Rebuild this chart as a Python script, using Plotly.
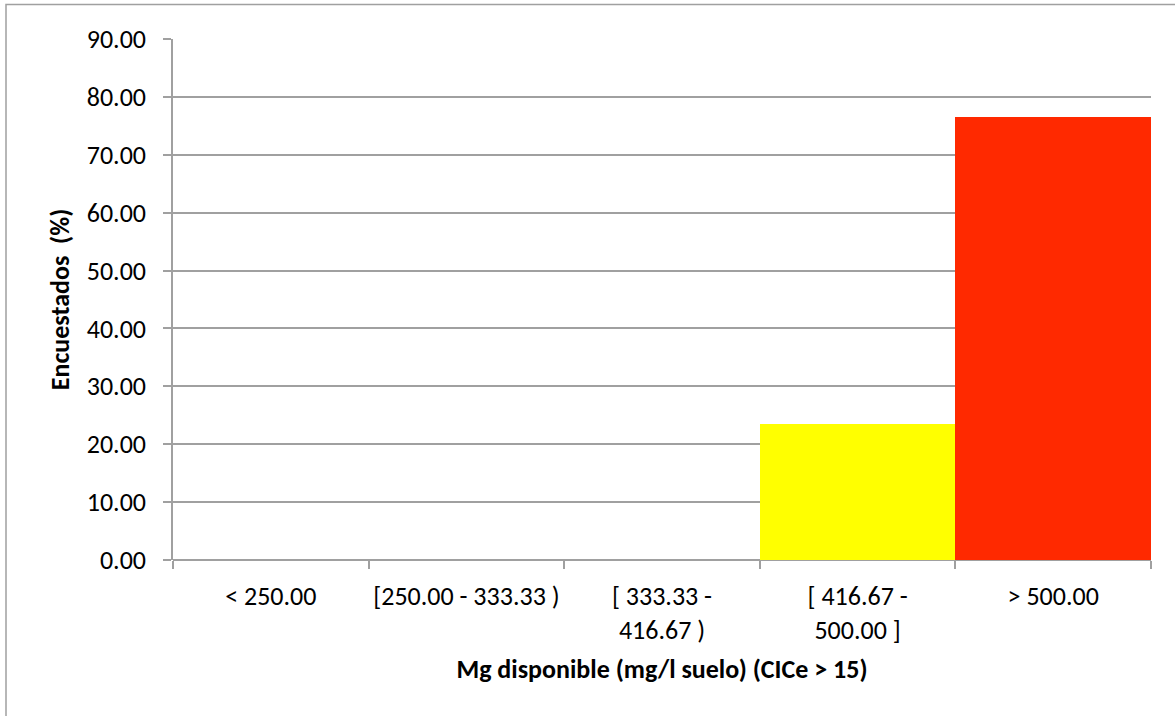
import plotly.graph_objects as go

categories = ["< 250.00", "[250.00 - 333.33 )", "[ 333.33 -<br>416.67 )", "[ 416.67 -<br>500.00 ]", "> 500.00"]
values = [0.0, 0.0, 0.0, 23.53, 76.47]
bar_colors = ["#FFFF00", "#FFFF00", "#FFFF00", "#FFFF00", "#FF2900"]
y_ticks = [0, 10, 20, 30, 40, 50, 60, 70, 80, 90]
y_labels = [f"{v:.2f}" for v in y_ticks]

W, H = 1175, 716
L, R, T, B = 173, 24, 39, 156
pw, ph = W - L - R, H - T - B

FONT = "Carlito, Calibri, Lato, sans-serif"
FS = 26

fig = go.Figure(go.Bar(
    x=categories, y=values, marker=dict(color=bar_colors, line=dict(width=0)),
    width=1.0,
))

def px_x(p):
    return (p - L) / pw

def px_y(p):
    return (H - B - p) / ph

fig.update_layout(
    width=W, height=H,
    margin=dict(l=L, r=R, t=T, b=B, autoexpand=False),
    paper_bgcolor="white", plot_bgcolor="white",
    showlegend=False,
    bargap=0,
    font=dict(family=FONT, size=FS, color="#000000"),
    xaxis=dict(
        type="category",
        tickson="boundaries",
        ticks="outside", ticklen=8, tickwidth=1.5, tickcolor="#a0a0a0",
        showline=False, showgrid=False,
        tickfont=dict(size=FS),
        tickangle=0,
        automargin=False,
        ticklabelstandoff=18,
        title=dict(text="<b>Mg disponible (mg/l suelo) (CICe > 15)</b>", font=dict(size=FS), standoff=15),
        range=[-0.5, 4.5],
    ),
    yaxis=dict(
        range=[0, 90],
        tickvals=y_ticks, ticktext=y_labels,
        ticks="outside", ticklen=8, tickwidth=1.5, tickcolor="#a0a0a0",
        showgrid=True, gridcolor="#a0a0a0", gridwidth=1.5,
        showline=True, linecolor="#a0a0a0", linewidth=1.5,
        zeroline=True, zerolinecolor="#a0a0a0", zerolinewidth=1.5,
        tickfont=dict(size=FS),
        automargin=False,
        ticklabelstandoff=12,
        title=dict(text="<b>Encuestados  (%)</b>", font=dict(size=FS), standoff=10),
    ),
    shapes=[
        dict(type="rect", xref="paper", yref="paper",
             x0=px_x(6), x1=px_x(W + 10), y0=px_y(H + 10), y1=px_y(4.5),
             line=dict(color="#a0a0a0", width=1.5), fillcolor="rgba(0,0,0,0)", layer="below"),
    ],
)

fig.write_html("out.html", config={"displayModeBar": False},
               post_script="document.body.style.margin='0';document.body.style.overflow='hidden';")
